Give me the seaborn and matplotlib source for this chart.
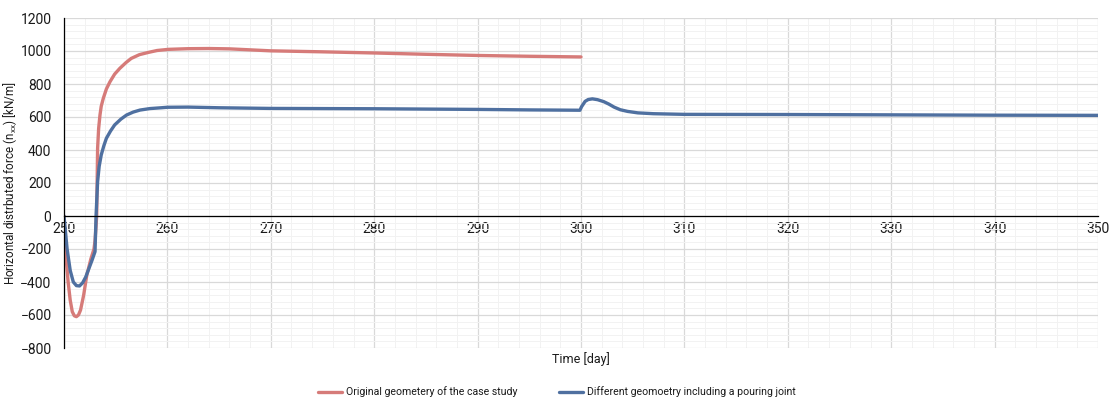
import numpy as np
import pandas as pd
import seaborn as sns
import matplotlib.pyplot as plt
from matplotlib import font_manager
from matplotlib.ticker import MultipleLocator

# Time axis and force values for the original geometry (ends at day 300)
t_original = [250.0, 250.2, 250.4, 250.6, 250.8, 251.0, 251.2, 251.4, 251.6, 251.9,
              252.2, 252.6, 252.9, 253.0, 253.1, 253.16, 253.25, 253.35, 253.48,
              253.6, 253.8, 254.1, 254.45, 254.9, 255.4, 256.0, 256.5, 257.3, 258.2,
              259.0, 260.1, 262.0, 264.0, 266.0, 268.0, 270.0, 275.0, 280.0, 285.0,
              290.0, 295.0, 300.0]
f_original = [0, -250, -400, -510, -580, -605, -610, -600, -570, -480,
              -360, -260, -200, -150, -60, 0, 410, 530, 612,
              665, 713, 770, 814, 860, 895, 930, 955, 978, 992,
              1003, 1010, 1014, 1015, 1013, 1007, 1001, 995, 988, 980,
              973, 968, 964]

# Time axis and force values for the geometry with a pouring joint
t_joint = [250.0, 250.3, 250.6, 250.9, 251.2, 251.5, 251.8, 252.1, 252.4, 252.7,
           253.0, 253.1, 253.25, 253.4, 253.6, 253.85, 254.1, 254.5, 254.9, 255.5,
           256.05, 256.7, 257.35, 258.3, 259.4, 260.0, 262.0, 265.0, 270.0, 275.0,
           280.0, 285.0, 290.0, 295.0, 299.9, 300.05, 300.4, 300.7, 301.1, 301.6,
           302.2, 302.7, 303.2, 303.8, 304.5, 305.5, 307.0, 310.0, 320.0, 330.0,
           340.0, 350.0]
f_joint = [0, -200, -330, -400, -422, -424, -405, -370, -320, -270,
           -216, 0, 208, 300, 370, 425, 471, 515, 552, 587,
           612, 630, 642, 651, 656, 659, 660, 656, 652, 651,
           650, 648, 646, 643, 641, 662, 695, 706, 710, 705,
           693, 678, 660, 644, 634, 625, 620, 616, 615, 613,
           611, 610]

series_names = ["Original geometery of the case study",
                "Different geomoetry including a pouring joint"]
series_colors = ["#D67B79", "#4F70A0"]

df = pd.concat([
    pd.DataFrame({"t": t_original, "f": f_original, "series": series_names[0]}),
    pd.DataFrame({"t": t_joint, "f": f_joint, "series": series_names[1]}),
], ignore_index=True)

sns.set_style("white")
installed = {f.name for f in font_manager.fontManager.ttflist}
main_font = "Liberation Sans Narrow" if "Liberation Sans Narrow" in installed else "Roboto"
plt.rcParams["font.family"] = [main_font, "DejaVu Sans"]
plt.rcParams["mathtext.fontset"] = "custom"
plt.rcParams["mathtext.rm"] = main_font
plt.rcParams["mathtext.it"] = main_font + ":italic"

fig = plt.figure(figsize=(11.14, 3.98), dpi=100)
ax = fig.add_axes([64 / 1114, 1 - 348 / 398, (1098 - 64) / 1114, 330 / 398])

sns.lineplot(data=df, x="t", y="f", hue="series", palette=series_colors,
             hue_order=series_names, linewidth=2.4, sort=False,
             estimator=None, ax=ax, legend=False)

ax.set_xlim(250, 350)
ax.set_ylim(-800, 1200)
ax.xaxis.set_major_locator(MultipleLocator(10))
ax.xaxis.set_minor_locator(MultipleLocator(2))
ax.yaxis.set_major_locator(MultipleLocator(200))
ax.yaxis.set_minor_locator(MultipleLocator(40))

ax.grid(which="major", color="#D9D9D9", linewidth=0.9)
ax.grid(which="minor", color="#F2F2F2", linewidth=0.7)
ax.set_axisbelow(True)

for side in ("top", "right"):
    ax.spines[side].set_visible(False)
ax.spines["bottom"].set_position(("data", 0))
ax.spines["bottom"].set_color("#000000")
ax.spines["bottom"].set_linewidth(0.9)
ax.spines["left"].set_color("#000000")
ax.spines["left"].set_linewidth(0.9)

ax.tick_params(axis="x", which="major", direction="inout", length=7, width=0.9,
               labelsize=10, pad=1, colors="#000000")
ax.tick_params(axis="y", which="major", direction="out", length=5, width=0.9,
               labelsize=10, pad=4, colors="#000000")
ax.tick_params(which="minor", length=0)
for lbl in ax.get_xticklabels() + ax.get_yticklabels():
    lbl.set_color("#1a1a1a")

ax.set_xlabel("Time [day]", fontsize=9, color="#1a1a1a")
ax.xaxis.set_label_coords(0.5, -0.012)
ax.set_ylabel(r"Horizontal distrbuted force (n$_{\mathrm{xx}}$) [kN/m]",
              fontsize=8.4, color="#1a1a1a")
ax.yaxis.set_label_coords(-0.044, 0.5)

handles = [plt.Line2D([], [], color=c, linewidth=2.4) for c in series_colors]
fig.legend(handles, series_names, loc="center", ncol=2, frameon=False,
           bbox_to_anchor=(557 / 1114, 1 - 392 / 398), fontsize=7.6,
           handlelength=2.2, handletextpad=0.4, columnspacing=4.0,
           labelcolor="#1a1a1a")

fig.savefig("out.png", dpi=100)
